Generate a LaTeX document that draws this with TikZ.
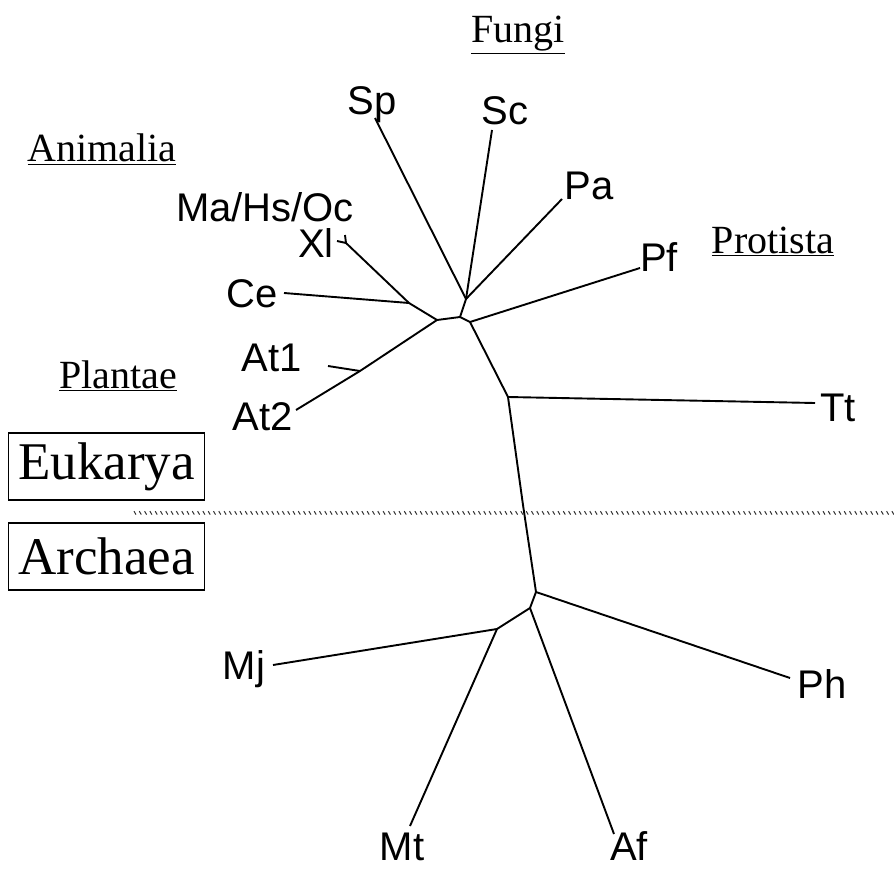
\documentclass[tikz,border=0pt]{standalone}
\usepackage{fontspec}
\setmainfont{Liberation Serif}
\newfontfamily\spfont{Liberation Sans}
\begin{document}
\begin{tikzpicture}[x=1pt,y=-1pt,
  branch/.style={line width=1.9pt, line join=round},
  sp/.style={font=\spfont\fontsize{40}{44}\selectfont, inner sep=0pt, anchor=base},
  grp/.style={font=\fontsize{40}{44}\selectfont, inner sep=0pt, anchor=base},
  tick/.style={line width=1pt, black!80},
  domainbox/.style={draw, line width=1.4pt, font=\fontsize{53}{58}\selectfont, minimum width=196pt, minimum height=67pt, inner sep=0pt}]
\useasboundingbox (0,0) rectangle (894,869);
% group labels
\node[grp] (fungi) at (518,43) {\underline{Fungi}};
\node[grp] (animalia) at (102,162) {\underline{Animalia}};
\node[grp] (protista) at (773,253) {\underline{Protista}};
\node[grp] (plantae) at (118,388) {\underline{Plantae}};
% domains
\node[domainbox] (euk) at (106.5,466.5) {Eukarya};
\node[domainbox] (arc) at (106.5,556.5) {Archaea};
% separator (row of small slanted ticks)
\coordinate (sepL) at (133,513);
\coordinate (sepR) at (894,513);
\foreach \x in {134,139.3,...,892} \draw[tick] (\x,511.2) -- ++(2,3.4);
% species labels
\node[sp] (Sp) at (372,115) {Sp};
\node[sp] (Sc) at (505,125) {Sc};
\node[sp] (Pa) at (589,200) {Pa};
\node[sp] (Pf) at (659,271) {Pf};
\node[sp] (Tt) at (838,421) {Tt};
\node[sp] (Ma) at (265,222) {Ma/Hs/Oc};
\node[sp] (Xl) at (316,258) {Xl};
\node[sp] (Ce) at (252,307) {Ce};
\node[sp] (At1) at (272,371) {At1};
\node[sp] (At2) at (263,430) {At2};
\node[sp] (Mj) at (244,679) {Mj};
\node[sp] (Ph) at (822,698) {Ph};
\node[sp] (Mt) at (402,860) {Mt};
\node[sp] (Af) at (629,860) {Af};
% tips
\coordinate (tSp) at (375,118);
\coordinate (tSc) at (492,130);
\coordinate (tPa) at (562,199);
\coordinate (tPf) at (640,268);
\coordinate (tTt) at (815,403);
\coordinate (tMa) at (345,235);
\coordinate (tXl) at (337,241);
\coordinate (tCe) at (284,293);
\coordinate (tAt1) at (328,366);
\coordinate (tAt2) at (296,410);
\coordinate (tMj) at (273,665);
\coordinate (tPh) at (790,678);
\coordinate (tMt) at (410,826);
\coordinate (tAf) at (614,834);
% internal nodes
\coordinate (jMX) at (346,243);
\coordinate (jAn) at (409,303);
\coordinate (jPl) at (360,371);
\coordinate (jAP) at (437,320);
\coordinate (jC) at (460,317);
\coordinate (jFu) at (466,299);
\coordinate (jPf) at (470,322);
\coordinate (jTt) at (508,397);
\coordinate (jMid) at (523,505);
\coordinate (jAr) at (536,592);
\coordinate (jAf) at (530,608);
\coordinate (jMj) at (497,629);
% branches
\draw[branch] (tMa) -- (jMX) -- (tXl);
\draw[branch] (jMX) -- (jAn) -- (jAP);
\draw[branch] (tCe) -- (jAn);
\draw[branch] (tAt2) -- (jPl) -- (jAP);
\draw[branch] (tAt1) -- (jPl);
\draw[branch] (jAP) -- (jC) -- (jFu);
\draw[branch] (tSp) -- (jFu);
\draw[branch] (tSc) -- (jFu);
\draw[branch] (tPa) -- (jFu);
\draw[branch] (jC) -- (jPf) -- (tPf);
\draw[branch] (jPf) -- (jTt) -- (tTt);
\draw[branch] (jTt) -- (jMid) -- (jAr) -- (tPh);
\draw[branch] (jAr) -- (jAf) -- (tAf);
\draw[branch] (jAf) -- (jMj) -- (tMj);
\draw[branch] (jMj) -- (tMt);
\end{tikzpicture}
\end{document}
